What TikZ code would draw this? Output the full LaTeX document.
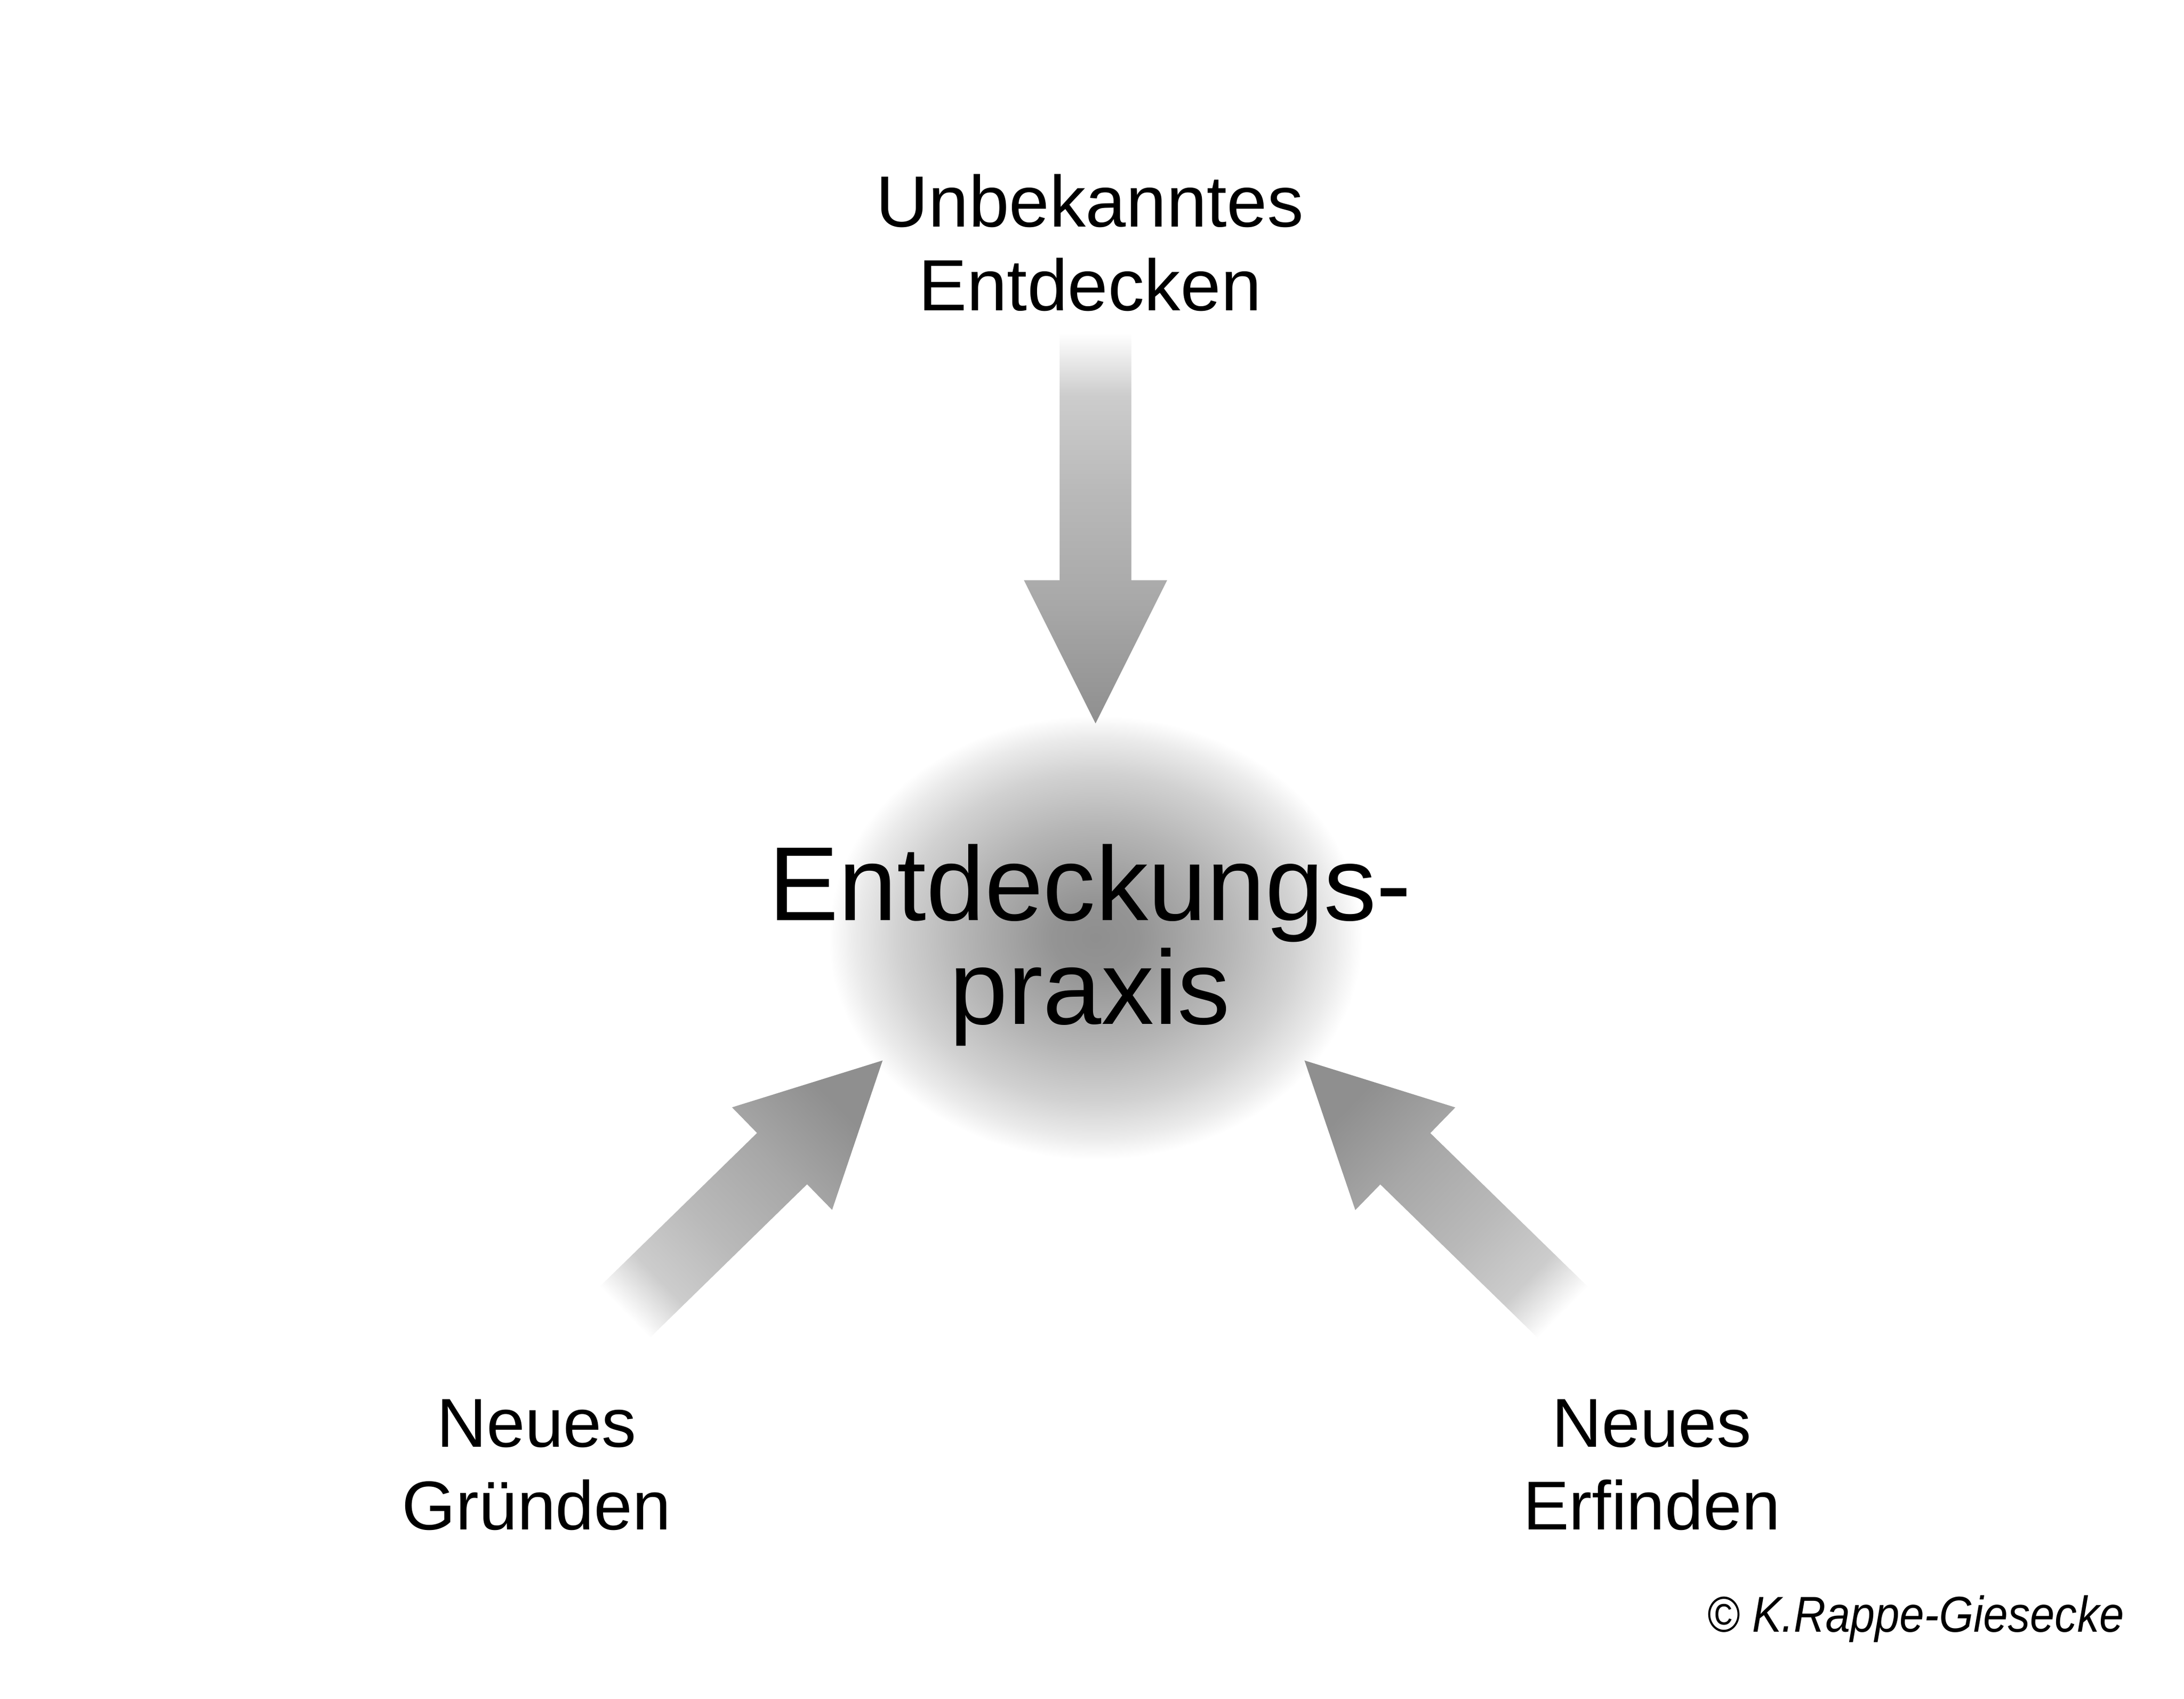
\documentclass[tikz,border=0pt]{standalone}
\usepackage{fontspec}
\setmainfont{Liberation Sans}
\usepackage{tikz}
\usetikzlibrary{calc}
\usetikzlibrary{positioning}
\usetikzlibrary{shapes.geometric}
\definecolor{pgray}{gray}{0.56}
\pgfdeclareradialshading{kernshade}{\pgfpoint{0bp}{0bp}}{color(0bp)=(black!44); color(4bp)=(black!42); color(12.5bp)=(black!29); color(18.5bp)=(black!18); color(22.5bp)=(black!8); color(25bp)=(white); color(50bp)=(white)}
\pgfdeclareverticalshading{pfeilshade}{100bp}{color(0bp)=(white); color(25bp)=(white); color(33bp)=(pgray!45!white); color(45bp)=(pgray!62!white); color(60bp)=(pgray!78!white); color(75bp)=(pgray); color(100bp)=(pgray)}
\tikzset{lbl/.style = {align=center, inner sep=0, font=\fontsize{14}{16.8}\selectfont}}
\tikzset{toplbl/.style = {lbl, font=\fontsize{14.7}{16.9}\selectfont}}
\tikzset{mitte/.style = {align=center, inner sep=0, font=\fontsize{21.3}{21}\selectfont}}
\tikzset{blob/.style = {ellipse, inner sep=0, minimum width=3.8cm, minimum height=3.16cm, shading=kernshade}}
\tikzset{pfeil/.style = {shading=pfeilshade}}
\tikzset{vermerk/.style = {inner sep=0, font=\fontsize{10.2}{12}\selectfont\itshape\addfontfeatures{FakeStretch=0.88}}}
\newcommand{\blockpfeil}[3]{%
  \coordinate (s) at ($(#1)!1.76cm!(#2)$);
  \shade [pfeil, shading angle=#3] ($(#1)!0.255cm!90:(#2)$) -- ($(s)!0.255cm!90:(#2)$)
    -- ($(s)!0.51cm!90:(#2)$) -- (#2) -- ($(s)!0.51cm!-90:(#2)$)
    -- ($(s)!0.255cm!-90:(#2)$) -- ($(#1)!0.255cm!-90:(#2)$) -- cycle;
}

\begin{document}
\begin{tikzpicture}
      \path [fill=white] (0, 0) rectangle (15.55, 12.094);
      \useasboundingbox (0, 0) rectangle (15.55, 12.094);

      \node [blob] (kern) at (7.8, 5.42) {};
      \node [mitte, anchor=base] (titel) at (7.76, 4.804) {Entdeckungs-\\praxis};

      \node [toplbl, anchor=base] (oben) at (7.76, 9.884) {Unbekanntes\\Entdecken};
      \node [lbl, anchor=base] (links) at (3.82, 1.204) {Neues\\Gründen};
      \node [lbl, anchor=base] (rechts) at (11.76, 1.204) {Neues\\Erfinden};

      \coordinate (os) at (7.8, 9.724);
      \coordinate (oh) at (7.8, 6.944);
      \coordinate (ls) at (4.309, 2.617);
      \coordinate (lh) at (6.284, 4.545);
      \coordinate (rs) at (11.266, 2.617);
      \coordinate (rh) at (9.288, 4.545);

      \blockpfeil{os}{oh}{180}
      \blockpfeil{ls}{lh}{-45.7}
      \blockpfeil{rs}{rh}{45.7}

      \node [vermerk, anchor=base east] (autor) at (15.13, 0.477) {© K.Rappe-Giesecke};
    \end{tikzpicture}
\end{document}
